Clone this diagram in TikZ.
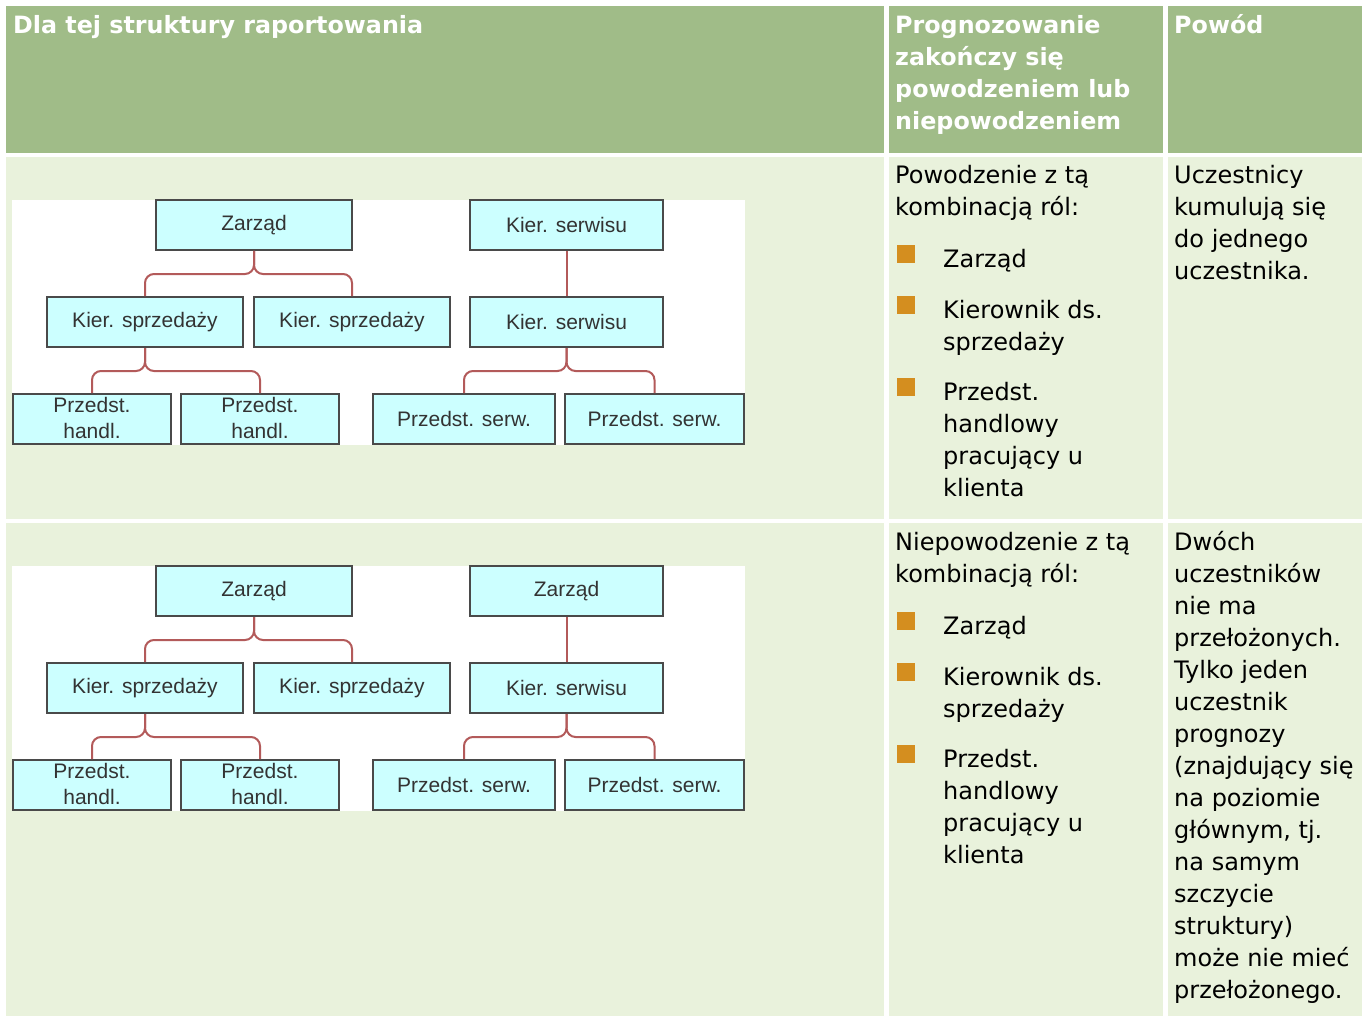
\documentclass[tikz,border=0pt]{standalone}
\usepackage{fontspec}
\setmainfont{DejaVu Sans}
\newfontfamily\chartfont{Liberation Sans}
\definecolor{headgreen}{HTML}{A0BC88}
\definecolor{rowgreen}{HTML}{E9F2DC}
\definecolor{boxcyan}{HTML}{CCFFFF}
\definecolor{boxline}{HTML}{4A4A4A}
\definecolor{charttext}{HTML}{333333}
\definecolor{linkred}{HTML}{B35A5A}
\definecolor{bulletorange}{HTML}{D48E1F}
\newcommand{\orgchart}[3]{%
 \begin{scope}[shift={(0,#2)}]%
  \fill[white] (12,200) rectangle (745,445);%
  \node[orgbox,minimum width=196pt] ({#1zr}) at (254,225) {Zarząd};%
  \node[orgbox,minimum width=193pt] ({#1top}) at (566.5,225) {#3};%
  \node[orgbox,minimum width=196pt] ({#1sp1}) at (145,322) {Kier. sprzedaży};%
  \node[orgbox,minimum width=196pt] ({#1sp2}) at (352,322) {Kier. sprzedaży};%
  \node[orgbox,minimum width=193pt] ({#1sw}) at (566.5,322) {Kier. serwisu};%
  \node[orgbox,minimum width=158pt] ({#1ph1}) at (92,419) {Przedst.\\handl.\vspace{3pt}};%
  \node[orgbox,minimum width=158pt] ({#1ph2}) at (260,419) {Przedst.\\handl.\vspace{3pt}};%
  \node[orgbox,minimum width=182pt] ({#1ps1}) at (464,419) {Przedst. serw.};%
  \node[orgbox,minimum width=179pt] ({#1ps2}) at (654.5,419) {Przedst. serw.};%
  \draw[link] ({#1zr}.south) -- ++(0,23) -| ({#1sp1}.north);%
  \draw[link] ({#1zr}.south) -- ++(0,23) -| ({#1sp2}.north);%
  \draw[link] ({#1sp1}.south) -- ++(0,23) -| ({#1ph1}.north);%
  \draw[link] ({#1sp1}.south) -- ++(0,23) -| ({#1ph2}.north);%
  \draw[link] ({#1top}.south) -- ({#1sw}.north);%
  \draw[link] ({#1sw}.south) -- ++(0,23) -| ({#1ps1}.north);%
  \draw[link] ({#1sw}.south) -- ++(0,23) -| ({#1ps2}.north);%
 \end{scope}%
}
\newcommand{\roleitem}[3]{%
 \fill[bulletorange] (897,{#2-22}) rectangle ++(18,18);%
 \node[celltext] ({#1}) at (943,#2) {\strut#3};%
}

\begin{document}
\begin{tikzpicture}[x=1pt,y=-1pt,
  celltext/.style={anchor=north west,yshift=22.4pt,inner sep=0pt,align=left,
    font=\fontsize{24}{32}\selectfont},
  headtext/.style={celltext,text=white,font=\bfseries\fontsize{23.8}{32}\selectfont},
  orgbox/.style={draw=boxline,line width=2pt,fill=boxcyan,minimum height=50pt,inner sep=0pt,
    text=charttext,align=center,font=\chartfont\fontsize{21}{26}\selectfont},
  link/.style={draw=linkred,line width=2pt,rounded corners=9pt}]
 \useasboundingbox (0,0) rectangle (1364,1016);
 % table cells
 \fill[headgreen] (6,6) rectangle (884,153);
 \fill[headgreen] (889,6) rectangle (1163,153);
 \fill[headgreen] (1168,6) rectangle (1362,153);
 \fill[rowgreen] (6,157) rectangle (884,519);
 \fill[rowgreen] (889,157) rectangle (1163,519);
 \fill[rowgreen] (1168,157) rectangle (1362,519);
 \fill[rowgreen] (6,523) rectangle (884,1016);
 \fill[rowgreen] (889,523) rectangle (1163,1016);
 \fill[rowgreen] (1168,523) rectangle (1362,1016);
 % header
 \node[headtext] (hd1) at (13,33) {\strut Dla tej struktury raportowania};
 \node[headtext] (hd2) at (895,33) {\strut Prognozowanie\\zakończy się\\powodzeniem lub\\niepowodzeniem};
 \node[headtext] (hd3) at (1174,33) {\strut Powód};
 % row 1
 \orgchart{a}{0}{Kier. serwisu}
 \node[celltext] (res1) at (895,183) {\strut Powodzenie z tą\\kombinacją ról:};
 \roleitem{r1a}{267}{Zarząd}
 \roleitem{r1b}{318}{Kierownik ds.\\sprzedaży}
 \roleitem{r1c}{400}{Przedst.\\handlowy\\pracujący u\\klienta}
 \node[celltext] (why1) at (1174,183) {\strut Uczestnicy\\kumulują się\\do jednego\\uczestnika.};
 % row 2
 \orgchart{b}{366}{Zarząd}
 \node[celltext] (res2) at (895,550) {\strut Niepowodzenie z tą\\kombinacją ról:};
 \roleitem{r2a}{634}{Zarząd}
 \roleitem{r2b}{685}{Kierownik ds.\\sprzedaży}
 \roleitem{r2c}{767}{Przedst.\\handlowy\\pracujący u\\klienta}
 \node[celltext] (why2) at (1174,550) {\strut Dwóch\\uczestników\\nie ma\\przełożonych.\\Tylko jeden\\uczestnik\\prognozy\\(znajdujący się\\na poziomie\\głównym, tj.\\na samym\\szczycie\\struktury)\\może nie mieć\\przełożonego.};
\end{tikzpicture}
\end{document}
